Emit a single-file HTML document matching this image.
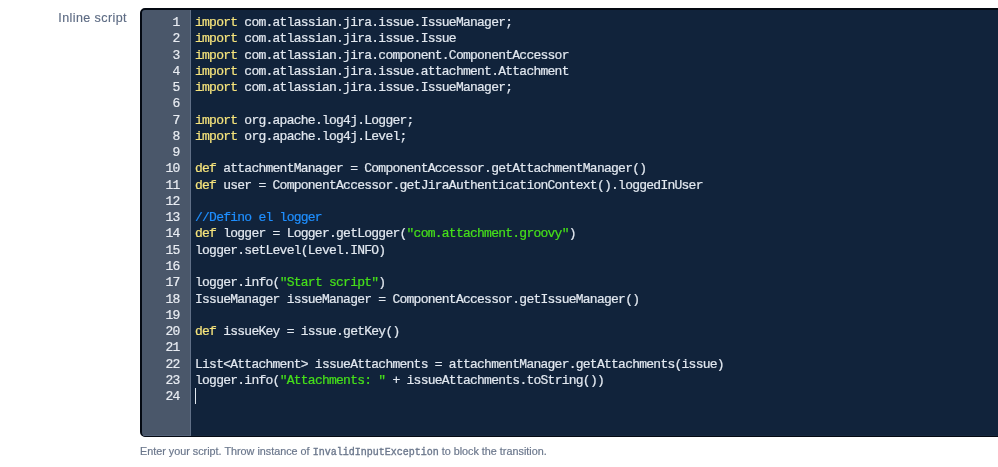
<!DOCTYPE html>
<html><head><meta charset="utf-8">
<style>
html,body{margin:0;padding:0;background:#fff;width:998px;height:467px;overflow:hidden;position:relative}
.label{position:absolute;left:0;width:127px;top:10.2px;text-align:right;font-family:"Liberation Sans",sans-serif;font-size:12.5px;letter-spacing:0.42px;line-height:16px;color:#5e6c84;will-change:transform;-webkit-text-stroke:0.15px}
.ed{position:absolute;left:140px;top:8px;width:900px;height:426px;border:2px solid #040912;border-bottom-width:1px;border-radius:5px;background:#11233b;overflow:hidden;box-shadow:inset 0 -1px 0 #16283f}
.gut{position:absolute;left:0;top:0;width:48px;bottom:0;background:#4a576a;border-right:1px solid #617087;box-shadow:inset 0 -1px 0 #55637a}
.nums{position:absolute;left:0;width:37.5px;top:5px;text-align:right;font-family:"Liberation Mono",monospace;font-size:13px;letter-spacing:-0.75px;line-height:16.26px;color:#e8ecf2;white-space:pre}
.code{position:absolute;left:53px;top:5px;font-family:"Liberation Mono",monospace;font-size:13px;letter-spacing:-0.75px;line-height:16.26px;color:#e2e8f0;white-space:pre}
.code,.nums{will-change:transform;-webkit-text-stroke:0.2px}
.k{color:#f6e47c}.s{color:#46e01a}.c{color:#1f8fff}
.cur{display:inline-block;width:1px;height:16px;background:#e2e8f0;vertical-align:top;position:relative;top:-1.5px}
.help{position:absolute;left:140px;top:444px;font-family:"Liberation Sans",sans-serif;font-size:10.8px;line-height:14px;color:#6b778c;white-space:pre;will-change:transform;-webkit-text-stroke:0.2px}
.help code{font-family:"Liberation Mono",monospace;font-size:10px;-webkit-text-stroke:0.35px;color:#6b778c}
</style></head><body>
<div class="label">Inline script</div>
<div class="ed">
<div class="gut"><div class="nums">1
2
3
4
5
6
7
8
9
10
11
12
13
14
15
16
17
18
19
20
21
22
23
24</div></div>
<div class="code"><span class="k">import</span> com.atlassian.jira.issue.IssueManager;
<span class="k">import</span> com.atlassian.jira.issue.Issue
<span class="k">import</span> com.atlassian.jira.component.ComponentAccessor
<span class="k">import</span> com.atlassian.jira.issue.attachment.Attachment
<span class="k">import</span> com.atlassian.jira.issue.IssueManager;

<span class="k">import</span> org.apache.log4j.Logger;
<span class="k">import</span> org.apache.log4j.Level;

<span class="k">def</span> attachmentManager = ComponentAccessor.getAttachmentManager()
<span class="k">def</span> user = ComponentAccessor.getJiraAuthenticationContext().loggedInUser

<span class="c">//Defino el logger</span>
<span class="k">def</span> logger = Logger.getLogger(<span class="s">"com.attachment.groovy"</span>)
logger.setLevel(Level.INFO)

logger.info(<span class="s">"Start script"</span>)
IssueManager issueManager = ComponentAccessor.getIssueManager()

<span class="k">def</span> issueKey = issue.getKey()

List&lt;Attachment&gt; issueAttachments = attachmentManager.getAttachments(issue)
logger.info(<span class="s">"Attachments: "</span> + issueAttachments.toString())
<span class="cur"></span></div>
</div>
<div class="help">Enter your script. Throw instance of <code>InvalidInputException</code> to block the transition.</div>
</body></html>
